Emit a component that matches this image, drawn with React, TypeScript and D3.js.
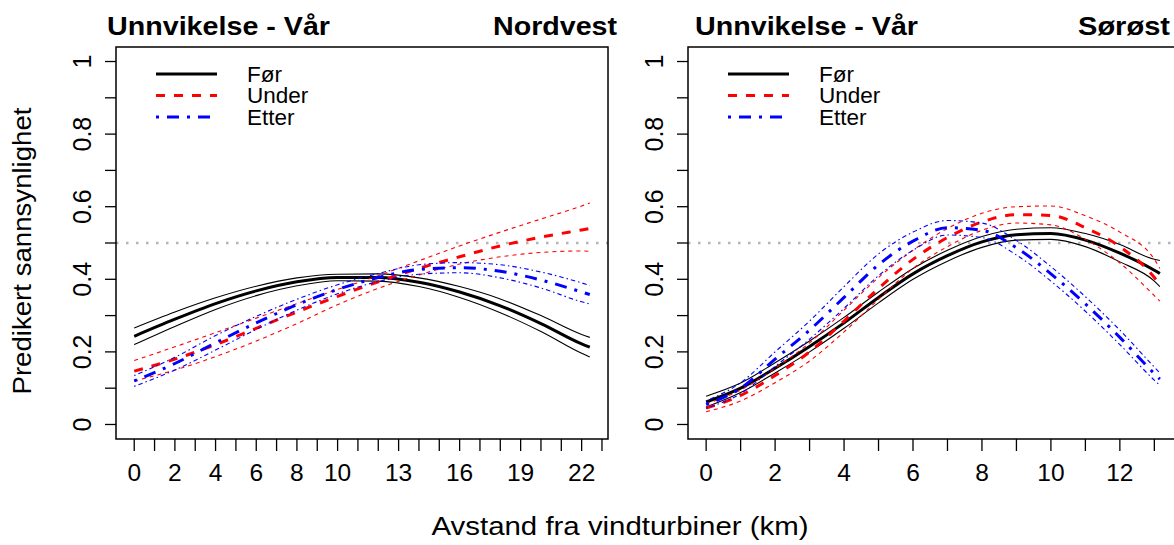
import React from "react";
import * as d3 from "d3";

// ---------- data ----------
const NW_X = [0, 2, 4, 6, 8, 10, 12, 14, 16, 18, 20, 22, 22.4];
const NW_FOR = [0.243, 0.29, 0.333, 0.368, 0.393, 0.405, 0.405, 0.392, 0.365, 0.327, 0.278, 0.222, 0.213];
const NW_FOR_LO = [0.22, 0.27, 0.317, 0.355, 0.382, 0.396, 0.395, 0.38, 0.35, 0.308, 0.256, 0.196, 0.186];
const NW_FOR_HI = [0.266, 0.31, 0.349, 0.381, 0.404, 0.414, 0.415, 0.404, 0.38, 0.346, 0.3, 0.248, 0.24];
const NW_UNDER = [0.147, 0.18, 0.22, 0.265, 0.31, 0.353, 0.393, 0.43, 0.462, 0.492, 0.516, 0.536, 0.54];
const NW_UNDER_LO = [0.12, 0.15, 0.187, 0.23, 0.278, 0.33, 0.375, 0.412, 0.442, 0.462, 0.474, 0.478, 0.477];
const NW_UNDER_HI = [0.176, 0.214, 0.253, 0.293, 0.333, 0.372, 0.41, 0.451, 0.492, 0.53, 0.566, 0.602, 0.61];
const NW_ETTER = [0.12, 0.168, 0.225, 0.28, 0.33, 0.372, 0.405, 0.427, 0.432, 0.422, 0.398, 0.365, 0.358];
const NW_ETTER_LO = [0.105, 0.15, 0.205, 0.262, 0.315, 0.36, 0.394, 0.414, 0.418, 0.404, 0.376, 0.338, 0.332];
const NW_ETTER_HI = [0.135, 0.185, 0.245, 0.298, 0.345, 0.385, 0.416, 0.44, 0.446, 0.44, 0.42, 0.39, 0.383];

const SE_X = [0, 1, 2, 3, 4, 5, 6, 7, 8, 9, 10, 11, 12, 13, 13.16];
const SE_FOR = [0.062, 0.1, 0.155, 0.215, 0.28, 0.35, 0.415, 0.465, 0.503, 0.523, 0.526, 0.508, 0.472, 0.425, 0.416];
const SE_FOR_LO = [0.048, 0.088, 0.142, 0.2, 0.265, 0.335, 0.4, 0.45, 0.488, 0.508, 0.51, 0.49, 0.448, 0.395, 0.38];
const SE_FOR_HI = [0.078, 0.114, 0.17, 0.23, 0.295, 0.365, 0.43, 0.48, 0.518, 0.538, 0.542, 0.526, 0.496, 0.455, 0.452];
const SE_UNDER = [0.045, 0.08, 0.135, 0.2, 0.285, 0.375, 0.455, 0.515, 0.558, 0.578, 0.576, 0.542, 0.49, 0.405, 0.385];
const SE_UNDER_LO = [0.035, 0.065, 0.115, 0.175, 0.255, 0.345, 0.43, 0.49, 0.535, 0.555, 0.55, 0.51, 0.445, 0.355, 0.34];
const SE_UNDER_HI = [0.057, 0.095, 0.155, 0.225, 0.315, 0.405, 0.48, 0.54, 0.582, 0.6, 0.602, 0.575, 0.53, 0.455, 0.43];
const SE_ETTER = [0.055, 0.1, 0.18, 0.26, 0.35, 0.44, 0.505, 0.542, 0.535, 0.487, 0.415, 0.332, 0.24, 0.14, 0.125];
const SE_ETTER_LO = [0.045, 0.085, 0.16, 0.235, 0.32, 0.41, 0.48, 0.522, 0.515, 0.467, 0.395, 0.312, 0.22, 0.122, 0.108];
const SE_ETTER_HI = [0.065, 0.115, 0.2, 0.285, 0.38, 0.47, 0.53, 0.562, 0.555, 0.507, 0.435, 0.352, 0.26, 0.158, 0.142];

const SERIES_NAMES = ["Før", "Under", "Etter"];
const NW_XLABELS = [0, 2, 4, 6, 8, 10, 13, 16, 19, 22];
const SE_XLABELS = [0, 2, 4, 6, 8, 10, 12];
const Y_LABELS = [0, 0.2, 0.4, 0.6, 0.8, 1];
const TITLE_MAIN = "Unnvikelse - Vår";
const REGIONS = ["Nordvest", "Sørøst"];
const X_TITLE = "Avstand fra vindturbiner (km)";
const Y_TITLE = "Predikert sannsynlighet";

// ---------- styles ----------
const COLORS = ["#000000", "#ff0000", "#0000ff"];
const MAIN_DASH = ["none", "9 9", "3 8 12 8"];
const CI_DASH = ["none", "4 4", "1.5 3 4.5 3"];
const FONT = "Arial, 'Liberation Sans', Helvetica, sans-serif";

type Panel = {
  x: number[];
  series: { fit: number[]; lo: number[]; hi: number[] }[];
  xlabels: number[];
  left: number;
  right: number;
  region: string;
  regionW: number;
  titleX: number;
  regionX: number;
};

const PANELS: Panel[] = [
  {
    x: NW_X,
    series: [
      { fit: NW_FOR, lo: NW_FOR_LO, hi: NW_FOR_HI },
      { fit: NW_UNDER, lo: NW_UNDER_LO, hi: NW_UNDER_HI },
      { fit: NW_ETTER, lo: NW_ETTER_LO, hi: NW_ETTER_HI },
    ],
    xlabels: NW_XLABELS,
    left: 116,
    right: 608,
    region: REGIONS[0],
    regionW: 124,
    titleX: 107,
    regionX: 617,
  },
  {
    x: SE_X,
    series: [
      { fit: SE_FOR, lo: SE_FOR_LO, hi: SE_FOR_HI },
      { fit: SE_UNDER, lo: SE_UNDER_LO, hi: SE_UNDER_HI },
      { fit: SE_ETTER, lo: SE_ETTER_LO, hi: SE_ETTER_HI },
    ],
    xlabels: SE_XLABELS,
    left: 688,
    right: 1178,
    region: REGIONS[1],
    regionW: 92,
    titleX: 695,
    regionX: 1170,
  },
];

const TOP = 47;
const BOTTOM = 439;

function PanelView({ p }: { p: Panel }) {
  const [x0, x1] = d3.extent(p.x) as [number, number];
  const ext = (x1 - x0) * 0.04;
  const xs = d3.scaleLinear().domain([x0 - ext, x1 + ext]).range([p.left, p.right]);
  const ys = d3.scaleLinear().domain([-0.04, 1.04]).range([BOTTOM, TOP]);
  const line = (vals: number[]) =>
    d3
      .line<number>()
      .x((_, i) => xs(p.x[i]))
      .y((v) => ys(v))
      .curve(d3.curveMonotoneX)(vals) as string;
  const xticks = d3.range(Math.ceil(x0), Math.floor(x1 + ext) + 1);
  const yticks = d3.range(0, 11).map((i) => i / 10);
  const lx = p.left + 40;
  const legendY = [74, 95.5, 117];

  return (
    <g>
      <clipPath id={`clip-${p.left}`}>
        <rect x={p.left} y={TOP} width={p.right - p.left} height={BOTTOM - TOP} />
      </clipPath>
      <g clipPath={`url(#clip-${p.left})`}>
        <line x1={p.left} x2={p.right} y1={ys(0.5)} y2={ys(0.5)} stroke="#b4b4b4" strokeWidth={2.5} strokeDasharray="2.5 7.5" />
        {p.series.map((s, i) => (
          <g key={i} fill="none" stroke={COLORS[i]}>
            <path d={line(s.lo)} strokeWidth={1.1} strokeDasharray={CI_DASH[i]} />
            <path d={line(s.hi)} strokeWidth={1.1} strokeDasharray={CI_DASH[i]} />
            <path d={line(s.fit)} strokeWidth={3} strokeDasharray={MAIN_DASH[i]} />
          </g>
        ))}
      </g>
      <rect x={p.left} y={TOP} width={p.right - p.left} height={BOTTOM - TOP} fill="none" stroke="#000" strokeWidth={1.5} />
      {/* x axis */}
      {xticks.map((t) => (
        <line key={t} x1={xs(t)} x2={xs(t)} y1={BOTTOM} y2={BOTTOM + 12} stroke="#000" strokeWidth={1.3} />
      ))}
      {p.xlabels.map((t) => (
        <text key={t} x={xs(t)} y={481} textAnchor="middle" fontSize={24.5} fontFamily={FONT}>
          {t}
        </text>
      ))}
      {/* y axis */}
      {yticks.map((t) => (
        <line key={t} x1={p.left - 11} x2={p.left} y1={ys(t)} y2={ys(t)} stroke="#000" strokeWidth={1.3} />
      ))}
      {Y_LABELS.map((t) => (
        <text
          key={t}
          transform={`translate(${p.left - 34},${ys(t)}) rotate(-90)`}
          textAnchor="middle"
          dy="0.35em"
          fontSize={25}
          fontFamily={FONT}
        >
          {String(t)}
        </text>
      ))}
      {/* titles */}
      <text x={p.titleX} y={35} fontSize={26} fontWeight="bold" fontFamily={FONT} textLength={223} lengthAdjust="spacingAndGlyphs">
        {TITLE_MAIN}
      </text>
      <text
        x={p.regionX - p.regionW}
        y={35}
        fontSize={26}
        fontWeight="bold"
        fontFamily={FONT}
        textLength={p.regionW}
        lengthAdjust="spacingAndGlyphs"
      >
        {p.region}
      </text>
      {/* legend */}
      {SERIES_NAMES.map((n, i) => (
        <g key={n}>
          <line x1={lx} x2={lx + 61} y1={legendY[i]} y2={legendY[i]} stroke={COLORS[i]} strokeWidth={3} strokeDasharray={MAIN_DASH[i]} />
          <text x={p.left + 131} y={legendY[i]} dy="0.35em" fontSize={22.5} fontFamily={FONT}>
            {n}
          </text>
        </g>
      ))}
    </g>
  );
}

export default function App() {
  return (
    <svg width={1174} height={545} style={{ position: "absolute", left: 0, top: 0, background: "#fff" }}>
      <rect width={1174} height={545} fill="#fff" />
      {PANELS.map((p) => (
        <PanelView key={p.left} p={p} />
      ))}
      <text x={620} y={535} textAnchor="middle" fontSize={25} fontFamily={FONT} textLength={377} lengthAdjust="spacingAndGlyphs">
        {X_TITLE}
      </text>
      <text
        transform={`translate(22,251) rotate(-90)`}
        textAnchor="middle"
        dy="0.35em"
        fontSize={25}
        fontFamily={FONT}
        textLength={287}
        lengthAdjust="spacingAndGlyphs"
      >
        {Y_TITLE}
      </text>
    </svg>
  );
}
